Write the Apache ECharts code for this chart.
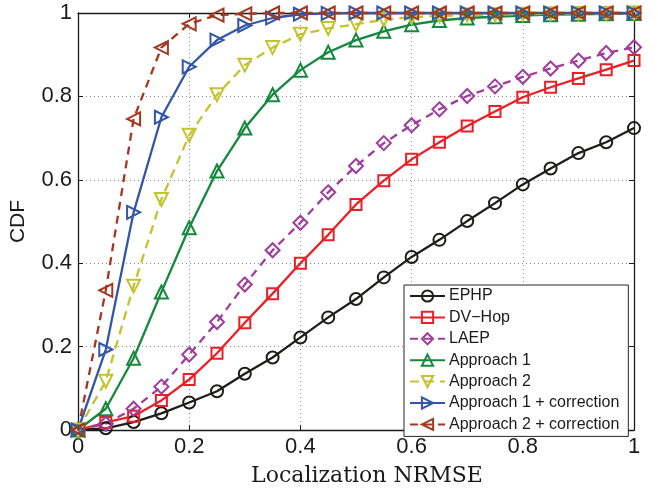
<!DOCTYPE html>
<html>
<head>
<meta charset="utf-8">
<script src="https://cdn.jsdelivr.net/npm/echarts@6/dist/echarts.min.js"></script>
<style>
  html, body { margin: 0; padding: 0; background: #fff; }
  #chart { width: 658px; height: 492px; }
</style>
</head>
<body>
<div id="chart"></div>
<script>
// Localization error CDF for the compared schemes
const nrmse = [0, 0.05, 0.1, 0.15, 0.2, 0.25, 0.3, 0.35, 0.4, 0.45, 0.5,
               0.55, 0.6, 0.65, 0.7, 0.75, 0.8, 0.85, 0.9, 0.95, 1];

const ephp = [0, 0.004, 0.019, 0.040, 0.066, 0.093, 0.135, 0.174, 0.222, 0.270, 0.314,
              0.366, 0.415, 0.456, 0.501, 0.544, 0.589, 0.627, 0.664, 0.690, 0.724];
const dvHop = [0, 0.018, 0.033, 0.071, 0.121, 0.184, 0.257, 0.327, 0.400, 0.468, 0.541,
               0.598, 0.649, 0.690, 0.729, 0.764, 0.798, 0.822, 0.843, 0.864, 0.886];
const laep = [0, 0.015, 0.051, 0.104, 0.181, 0.259, 0.349, 0.431, 0.497, 0.570, 0.633,
              0.688, 0.731, 0.769, 0.801, 0.824, 0.847, 0.867, 0.886, 0.904, 0.918];
const approach1 = [0, 0.051, 0.172, 0.331, 0.485, 0.621, 0.724, 0.804, 0.863, 0.906, 0.935,
                   0.956, 0.972, 0.982, 0.988, 0.991, 0.994, 0.996, 0.997, 0.998, 0.999];
const approach2 = [0, 0.117, 0.345, 0.553, 0.707, 0.804, 0.875, 0.917, 0.949, 0.963, 0.973,
                   0.984, 0.990, 0.993, 0.995, 0.996, 0.997, 0.998, 0.999, 0.999, 1.000];
const approach1Corr = [0, 0.193, 0.522, 0.750, 0.871, 0.935, 0.970, 0.988, 0.997, 0.999, 1.000,
                       1.000, 1.000, 1.000, 1.000, 1.000, 1.000, 1.000, 1.000, 1.000, 1.000];
const approach2Corr = [0, 0.335, 0.746, 0.917, 0.974, 0.995, 0.998, 1.000, 1.000, 1.000, 1.000,
                       1.000, 1.000, 1.000, 1.000, 1.000, 1.000, 1.000, 1.000, 1.000, 1.000];

const axisTicks = [0, 0.2, 0.4, 0.6, 0.8, 1];

// marker outlines
const downTri = 'path://M0,0 L10,0 L5,9 Z';
const rightTri = 'path://M0,0 L9,5 L0,10 Z';
const leftTri = 'path://M9,0 L0,5 L9,10 Z';

const styles = [
  { name: 'EPHP', values: ephp, color: '#1d1d1b', symbol: 'circle', size: 12, dash: 'solid' },
  { name: 'DV\u2212Hop', values: dvHop, color: '#ec1f26', symbol: 'rect', size: 11, dash: 'solid' },
  { name: 'LAEP', values: laep, color: '#a03c9c', symbol: 'diamond', size: 14, dash: [8, 6] },
  { name: 'Approach 1', values: approach1, color: '#14893d', symbol: 'triangle', size: 13, dash: 'solid' },
  { name: 'Approach 2', values: approach2, color: '#c3c32f', symbol: downTri, size: 13, dash: [9, 6] },
  { name: 'Approach 1 + correction', values: approach1Corr, color: '#3456a6', symbol: rightTri, size: 13, dash: 'solid' },
  { name: 'Approach 2 + correction', values: approach2Corr, color: '#a3371f', symbol: leftTri, size: 13, dash: [8, 6] }
];

const series = styles.map(s => ({
  name: s.name,
  type: 'line',
  data: nrmse.map((x, i) => [x, s.values[i]]),
  symbol: s.symbol,
  symbolSize: s.size,
  showAllSymbol: true,
  clip: false,
  lineStyle: { color: s.color, width: 2.3, type: s.dash },
  itemStyle: { color: 'rgba(255,255,255,0)', borderColor: s.color, borderWidth: 2 },
  emphasis: { disabled: true }
}));

const tickFont = { fontFamily: 'Liberation Sans', fontSize: 22, color: '#1a1a1a' };

const baseAxis = {
  type: 'value', min: 0, max: 1, interval: 0.2,
  axisLine: { show: true, onZero: false, lineStyle: { color: '#1a1a1a', width: 1.3 } },
  axisTick: { show: true, inside: true, length: 5, lineStyle: { color: '#1a1a1a', width: 1 } }
};

const fmt = v => {
  const hit = axisTicks.find(t => Math.abs(t - v) < 1e-9);
  return hit === undefined ? '' : String(hit);
};

const chart = echarts.init(document.getElementById('chart'), null, { renderer: 'canvas' });
chart.setOption({
  animation: false,
  backgroundColor: '#ffffff',
  grid: { left: 78, right: 24, top: 13, bottom: 51, containLabel: false },
  xAxis: [
    Object.assign({}, baseAxis, {
      position: 'bottom',
      axisLabel: Object.assign({ margin: 6, formatter: fmt }, tickFont),
      splitLine: { show: true, lineStyle: { color: '#8c8c8c', width: 1, type: [1, 3] } },
      name: 'Localization NRMSE',
      nameLocation: 'middle',
      nameGap: 35,
      nameTextStyle: { fontFamily: 'DejaVu Serif', fontSize: 22, color: '#1a1a1a', padding: [0, 0, 0, 22] }
    }),
    Object.assign({}, baseAxis, {
      position: 'top',
      axisLabel: { show: false },
      splitLine: { show: false }
    })
  ],
  yAxis: [
    Object.assign({}, baseAxis, {
      position: 'left',
      axisLabel: Object.assign({ margin: 6, formatter: fmt }, tickFont),
      splitLine: { show: true, lineStyle: { color: '#8c8c8c', width: 1, type: [1, 3] } },
      name: 'CDF',
      nameLocation: 'middle',
      nameGap: 49,
      nameTextStyle: { fontFamily: 'Liberation Sans', fontSize: 21, color: '#1a1a1a' }
    }),
    Object.assign({}, baseAxis, {
      position: 'right',
      axisLabel: { show: false },
      splitLine: { show: false }
    })
  ],
  legend: {
    orient: 'vertical',
    left: 404,
    top: 285,
    padding: [3, 9, 4, 5],
    itemWidth: 35,
    itemHeight: 14,
    itemGap: 5.4,
    backgroundColor: '#ffffff',
    borderColor: '#262626',
    borderWidth: 1,
    selectedMode: false,
    textStyle: { fontFamily: 'Liberation Sans', fontSize: 16, color: '#1a1a1a', padding: [0, 0, 0, -1] },
    data: styles.map(s => s.name)
  },
  series: series
});
</script>
</body>
</html>
